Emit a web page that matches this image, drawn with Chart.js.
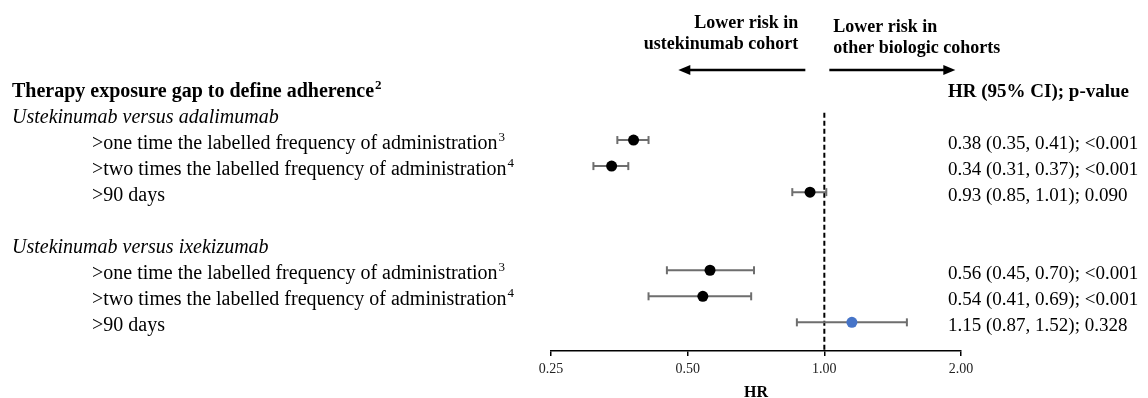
<!DOCTYPE html>
<html><head><meta charset="utf-8">
<script src="https://cdn.jsdelivr.net/npm/chart.js@4.4.1/dist/chart.umd.min.js"></script>
<style>html,body{margin:0;padding:0;background:#fff;}canvas{display:block;}</style>
</head><body>
<canvas id="c" width="1148" height="398" style="width:1148px;height:398px"></canvas>
<script>
// ---- data ----
const rowLabels = [
  '>one time the labelled frequency of administration',
  '>two times the labelled frequency of administration',
  '>90 days',
  '>one time the labelled frequency of administration',
  '>two times the labelled frequency of administration',
  '>90 days'
];
const rowSup = ['3', '4', '', '3', '4', ''];
const rowPos = [0, 1, 2, 5, 6, 7];
const groupLabels = ['Ustekinumab versus adalimumab', 'Ustekinumab versus ixekizumab'];
const groupPos = [-1, 4];
const hr = [0.38, 0.34, 0.93, 0.56, 0.54, 1.15];
const ciLow = [0.35, 0.31, 0.85, 0.45, 0.41, 0.87];
const ciHigh = [0.41, 0.37, 1.01, 0.70, 0.69, 1.52];
const pValues = ['<0.001', '<0.001', '0.090', '<0.001', '<0.001', '0.328'];
const xTicks = [0.25, 0.5, 1, 2];
const refValue = 1;

const SERIF = '"Liberation Serif", "Times New Roman", serif';
const BLUE = '#4674c8';
const GRAY = '#6e6e6e';

const dotData = hr.map((v, i) => ({x: v, y: rowPos[i]}));
const ciData = [];
hr.forEach((v, i) => {
  ciData.push({x: ciLow[i], y: rowPos[i]});
  ciData.push({x: ciHigh[i], y: rowPos[i]});
  ciData.push({x: v, y: null});
});
const refData = [{x: refValue, y: -1.05}, {x: refValue, y: 8.1}];

function textSup(ctx, main, sup, x, y, font, supFont) {
  ctx.font = font;
  ctx.fillText(main, x, y);
  if (sup) {
    const w = ctx.measureText(main).width;
    ctx.font = supFont;
    ctx.fillText(sup, x + w + 1, y - 8);
  }
}
function arrow(ctx, x0, x1, y) {
  const dir = Math.sign(x1 - x0);
  ctx.strokeStyle = '#000';
  ctx.fillStyle = '#000';
  ctx.lineWidth = 2.5;
  ctx.beginPath();
  ctx.moveTo(x0, y);
  ctx.lineTo(x1 - dir * 8, y);
  ctx.stroke();
  ctx.beginPath();
  ctx.moveTo(x1, y);
  ctx.lineTo(x1 - dir * 12, y - 5);
  ctx.lineTo(x1 - dir * 12, y + 5);
  ctx.closePath();
  ctx.fill();
}

const textPlugin = {
  id: 'forestText',
  afterDraw(chart) {
    const ctx = chart.ctx;
    const ys = chart.scales.y, xs = chart.scales.x;
    const Y = v => ys.getPixelForValue(v) + 9;
    ctx.save();
    ctx.fillStyle = '#000';
    ctx.textBaseline = 'alphabetic';
    ctx.textAlign = 'left';
    // column headers
    textSup(ctx, 'Therapy exposure gap to define adherence', '2', 12, Y(-2),
      'bold 20px ' + SERIF, 'bold 13px ' + SERIF);
    ctx.font = 'bold 19px ' + SERIF;
    ctx.fillText('HR (95% CI); p-value', 948, Y(-2));
    // group labels
    groupLabels.forEach((g, i) => {
      ctx.font = 'italic 20px ' + SERIF;
      ctx.fillText(g, 12, Y(groupPos[i]));
    });
    // rows
    rowLabels.forEach((l, i) => {
      ctx.fillStyle = '#000';
      textSup(ctx, l, rowSup[i], 92, Y(rowPos[i]), '20px ' + SERIF, '13px ' + SERIF);
      ctx.font = '19px ' + SERIF;
      const t = hr[i].toFixed(2) + ' (' + ciLow[i].toFixed(2) + ', ' + ciHigh[i].toFixed(2) + '); ' + pValues[i];
      ctx.fillText(t, 948, Y(rowPos[i]));
    });
    // direction annotations
    const x1 = xs.getPixelForValue(refValue);
    ctx.font = 'bold 18px ' + SERIF;
    ctx.textAlign = 'right';
    ctx.fillText('Lower risk in', x1 - 26, 28);
    ctx.fillText('ustekinumab cohort', x1 - 26, 49);
    ctx.textAlign = 'left';
    ctx.fillText('Lower risk in', x1 + 9, 32);
    ctx.fillText('other biologic cohorts', x1 + 9, 53);
    arrow(ctx, x1 - 19, x1 - 146, 70);
    arrow(ctx, x1 + 5, x1 + 131, 70);
    ctx.restore();
  }
};

new Chart(document.getElementById('c'), {
  data: {
    datasets: [
      {
        type: 'scatter',
        data: dotData,
        pointRadius: 5.5,
        pointHoverRadius: 5.5,
        pointBorderWidth: 0,
        pointBackgroundColor: c => (hr[c.dataIndex] > refValue ? BLUE : '#000'),
        clip: false
      },
      {
        type: 'line',
        data: ciData,
        spanGaps: false,
        borderColor: GRAY,
        borderWidth: 2,
        pointStyle: 'line',
        rotation: 90,
        pointRadius: 4,
        pointHoverRadius: 4,
        pointBorderColor: GRAY,
        pointBorderWidth: 2,
        clip: false
      },
      {
        type: 'line',
        data: refData,
        borderColor: '#000',
        borderWidth: 2,
        borderDash: [5, 3],
        pointRadius: 0,
        clip: false
      }
    ]
  },
  options: {
    responsive: false,
    animation: false,
    events: [],
    layout: {padding: {left: 551, right: 187, top: 114, bottom: 0}},
    plugins: {legend: {display: false}, tooltip: {enabled: false}},
    scales: {
      x: {
        type: 'logarithmic',
        position: 'bottom',
        min: xTicks[0],
        max: xTicks[xTicks.length - 1],
        afterBuildTicks: s => { s.ticks = xTicks.map(v => ({value: v})); },
        afterFit: s => { s.height = 47; },
        ticks: {
          callback: v => Number(v).toFixed(2),
          font: {family: SERIF, size: 14},
          color: '#222',
          padding: 5,
          autoSkip: false,
          maxRotation: 0
        },
        grid: {drawOnChartArea: false, drawTicks: true, tickLength: 5, color: '#000', lineWidth: 1.5},
        border: {display: true, color: '#000', width: 1.5},
        title: {
          display: true,
          text: 'HR',
          color: '#000',
          font: {family: SERIF, size: 16, weight: 'bold', lineHeight: 1},
          padding: {top: 0, bottom: -3}
        }
      },
      y: {
        type: 'linear',
        min: -1,
        max: 8.1,
        reverse: true,
        display: false
      }
    }
  },
  plugins: [textPlugin]
});
</script>
</body></html>
